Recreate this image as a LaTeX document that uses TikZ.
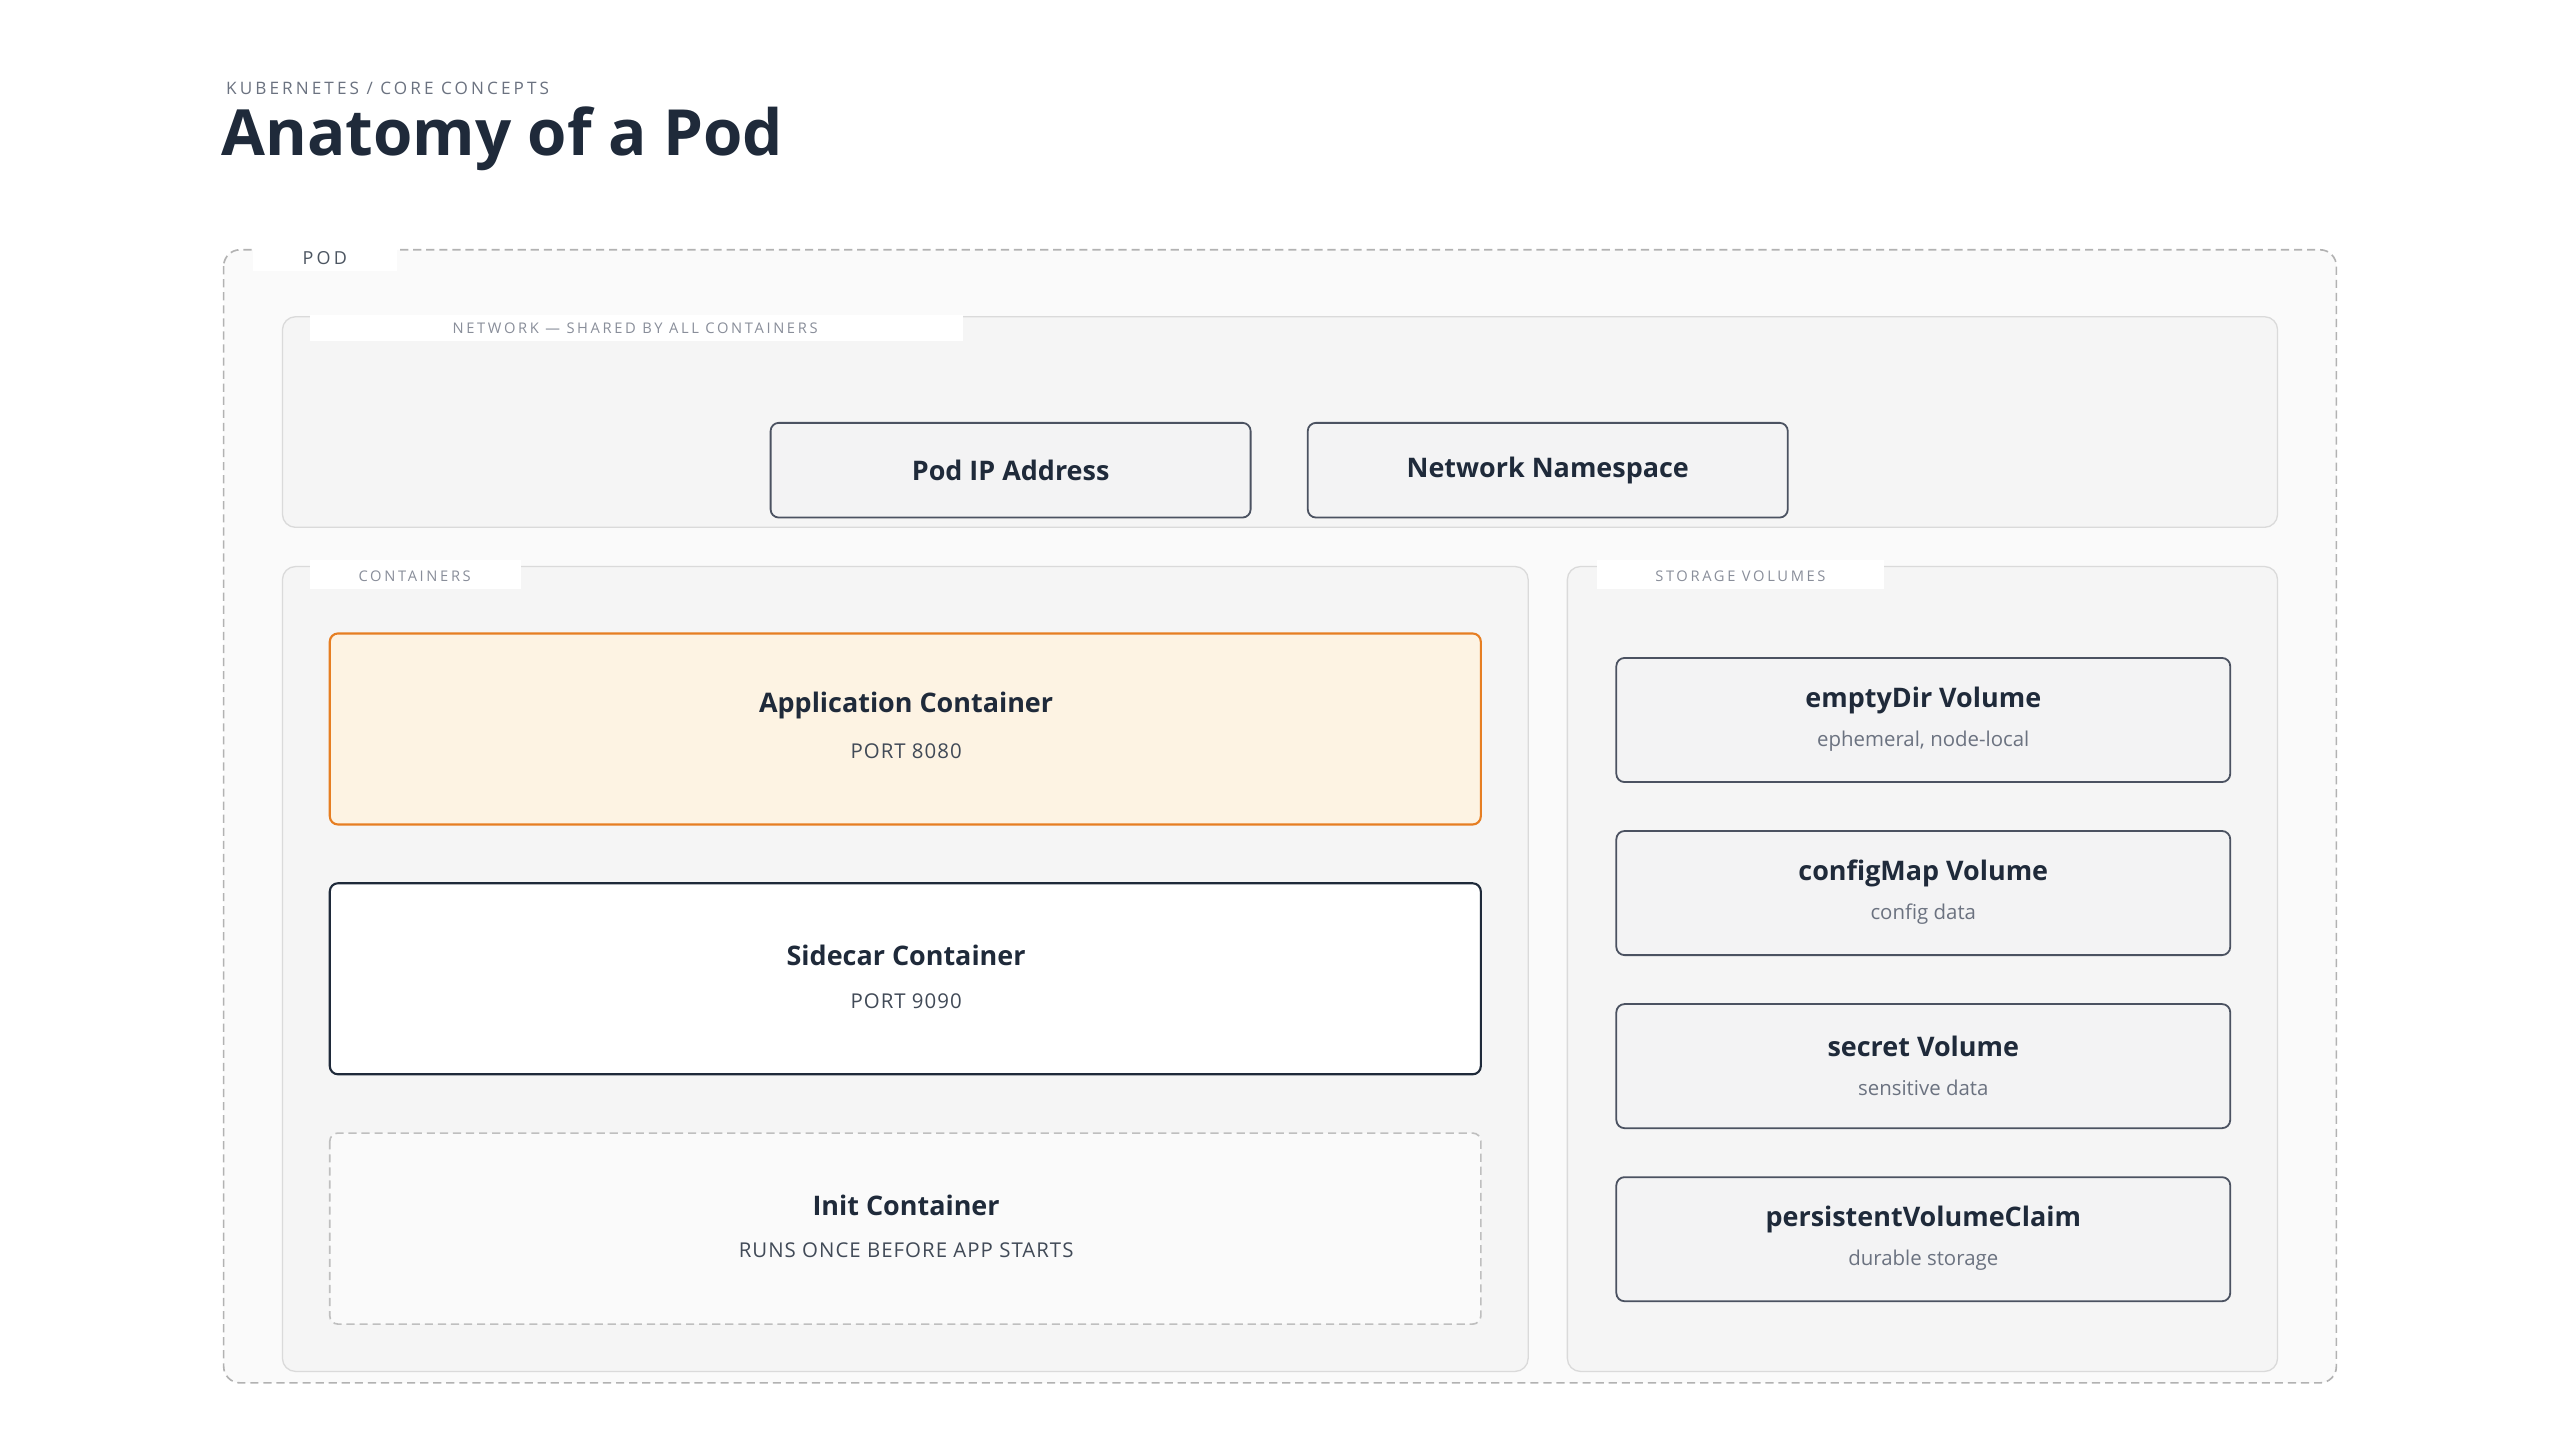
\documentclass[tikz,border=0pt]{standalone}
\usepackage{fontspec}
\setmainfont{Open Sans}
\newfontfamily\spacedfont[LetterSpace=18]{Open Sans}
\newfontfamily\lightspaced[LetterSpace=5]{Open Sans}
\usetikzlibrary{positioning}

\definecolor{inkdark}{HTML}{1F2A3A}
\definecolor{inkgray}{HTML}{6B7280}
\definecolor{linegray}{HTML}{DADADA}
\definecolor{boxedge}{HTML}{4B5261}
\definecolor{boxfill}{HTML}{F3F3F4}
\definecolor{appfill}{HTML}{FDF3E3}
\definecolor{apporange}{HTML}{E67E22}

\tikzset{
  panel/.style={draw=linegray,fill=#1,rounded corners=8pt,line width=0.8pt},
  tab/.style={fill=white,inner sep=0pt,font=\spacedfont\fontsize{9}{11}\selectfont,text=inkgray!80},
  item/.style={draw=boxedge,fill=boxfill,rounded corners=5pt,line width=1.1pt},
  title/.style={font=\bfseries\fontsize{16.5}{20}\selectfont,text=inkdark},
  sub/.style={font=\fontsize{12.5}{15}\selectfont,text=inkgray},
  caps/.style={font=\lightspaced\fontsize{12.5}{15}\selectfont,text=inkdark!85}
}

\begin{document}
\begin{tikzpicture}[x=1pt,y=-1pt]

  \useasboundingbox[fill=white] (0,0) rectangle (1568,882);

  % heading
  \node[anchor=west,font=\spacedfont\fontsize{10.5}{13}\selectfont,text=inkgray] (kicker) at (135,54) {KUBERNETES / CORE CONCEPTS};
  \node[anchor=west,font=\bfseries\fontsize{39}{46}\selectfont,text=inkdark] (heading) at (132,85) {Anatomy of a Pod};

  % pod
  \draw[draw=black!30,fill=black!2,dashed,dash pattern=on 5pt off 3pt,rounded corners=10pt,line width=1pt]
    (137,153) rectangle (1431,847);
  \fill[white] (155,150) rectangle (243,166);
  \node[tab,font=\spacedfont\fontsize{11}{13}\selectfont,text=inkdark!80] (podlabel) at (199,158) {POD};

  % network
  \draw[panel=black!4] (173,194) rectangle (1395,323);
  \fill[white] (190,193) rectangle (590,209);
  \node[tab] (netlabel) at (389,201) {NETWORK — SHARED BY ALL CONTAINERS};

  \draw[item] (472,259) rectangle (766,317);
  \node[title] (podip) at (619,288) {Pod IP Address};
  \draw[item] (801,259) rectangle (1095,317);
  \node[title] (netns) at (948,288) {Network Namespace};

  % containers
  \draw[panel=black!4] (173,347) rectangle (936,840);
  \fill[white] (190,343) rectangle (319,361);
  \node[tab] (ctrlabel) at (254,353) {CONTAINERS};

  \draw[draw=apporange,fill=appfill,rounded corners=5pt,line width=1.3pt] (202,388) rectangle (907,505);
  \node[title] (app) at (555,432) {Application Container};
  \node[caps] (appport) at (555,460) {PORT 8080};

  \draw[draw=inkdark,fill=white,rounded corners=5pt,line width=1.3pt] (202,541) rectangle (907,658);
  \node[title] (sidecar) at (555,585) {Sidecar Container};
  \node[caps] (sideport) at (555,613) {PORT 9090};

  \draw[draw=black!25,fill=black!2,dashed,dash pattern=on 5pt off 3pt,rounded corners=5pt,line width=1pt]
    (202,694) rectangle (907,811);
  \node[title] (init) at (555,738) {Init Container};
  \node[caps] (initnote) at (555,766) {RUNS ONCE BEFORE APP STARTS};

  % storage
  \draw[panel=black!4] (960,347) rectangle (1395,840);
  \fill[white] (978,343) rectangle (1154,361);
  \node[tab] (volabel) at (1066,353) {STORAGE VOLUMES};

  \foreach \y/\name/\what [count=\i] in {403/emptyDir Volume/{ephemeral, node-local},
                                        509/configMap Volume/config data,
                                        615/secret Volume/sensitive data,
                                        721/persistentVolumeClaim/durable storage} {
    \draw[item] (990,\y) rectangle (1366,\y+76);
    \node[title] (vol\i) at (1178,\y+26) {\name};
    \node[sub] (vol\i note) at (1178,\y+51) {\what};
  }

\end{tikzpicture}
\end{document}
